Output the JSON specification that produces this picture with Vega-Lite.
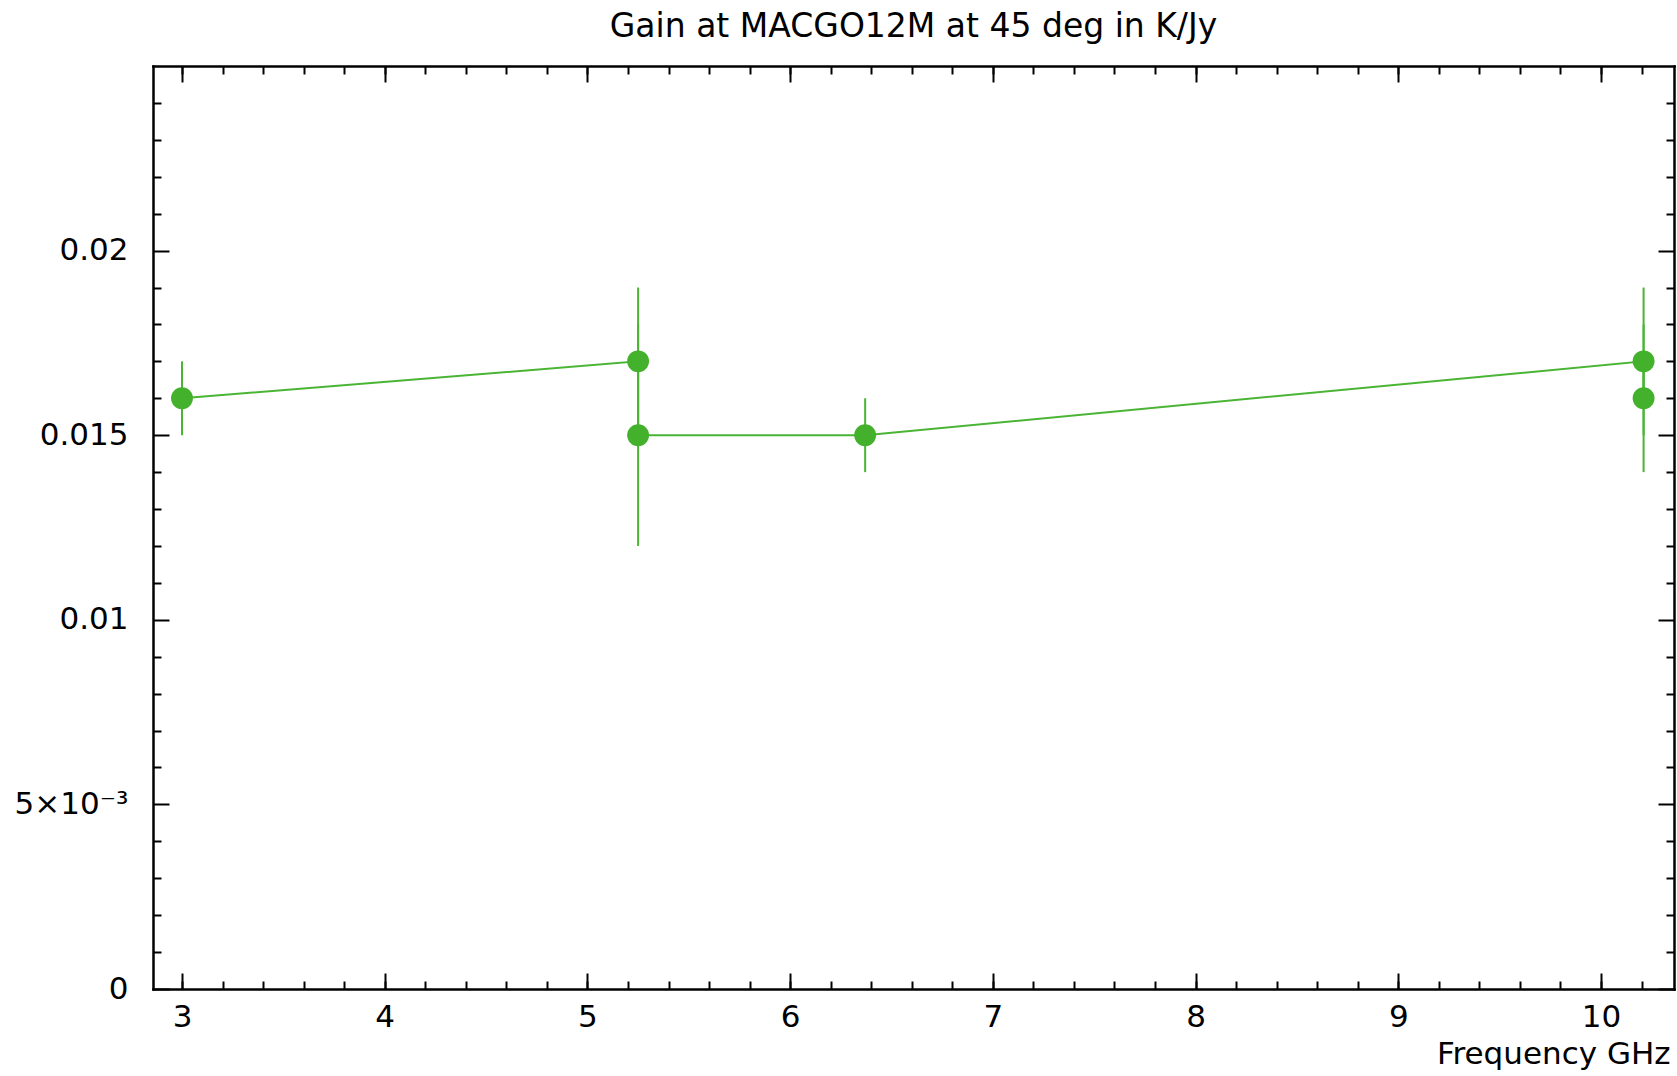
{
  "$schema": "https://vega.github.io/schema/vega-lite/v6.json",
  "autosize": {"type": "none"},
  "padding": {"left": 153, "top": 66, "right": 3, "bottom": 87},
  "width": 1521,
  "height": 923,
  "background": "white",
  "title": {"text": "Gain at MACGO12M at 45 deg in K/Jy", "baseline": "alphabetic", "offset": -5, "fontSize": 33, "font": "DejaVu Sans", "fontWeight": "normal", "color": "black", "anchor": "middle"},
  "data": {"values": [
    {"freq": 3.0, "gain": 0.016, "lo": 0.015, "hi": 0.017, "order": 1},
    {"freq": 5.25, "gain": 0.017, "lo": 0.015, "hi": 0.019, "order": 2},
    {"freq": 5.25, "gain": 0.015, "lo": 0.012, "hi": 0.018, "order": 3},
    {"freq": 6.37, "gain": 0.015, "lo": 0.014, "hi": 0.016, "order": 4},
    {"freq": 10.21, "gain": 0.017, "lo": 0.015, "hi": 0.019, "order": 5},
    {"freq": 10.21, "gain": 0.016, "lo": 0.014, "hi": 0.018, "order": 6}
  ]},
  "resolve": {"axis": {"x": "independent", "y": "independent"}},
  "layer": [
    {
      "mark": {"type": "line", "color": "#4ab535", "strokeWidth": 2},
      "encoding": {
        "x": {"field": "freq", "type": "quantitative", "scale": {"domain": [2.857, 10.36], "nice": false, "zero": false},
          "axis": {"orient": "bottom", "values": [3, 4, 5, 6, 7, 8, 9, 10], "tickSize": -16, "labelPadding": 29, "labelFontSize": 31, "labelFont": "DejaVu Sans", "labelColor": "black", "grid": false, "labelFlush": false, "labelOverlap": false,
            "title": "Frequency GHz", "titleFont": "DejaVu Sans", "titleFontSize": 31, "titleFontWeight": "normal", "titleColor": "black", "titleAlign": "right", "titleAnchor": "end", "titleX": 1517, "titleY": 74, "titleBaseline": "alphabetic"}},
        "y": {"field": "gain", "type": "quantitative", "scale": {"domain": [0, 0.025], "nice": false},
          "axis": {"orient": "left", "values": [0, 0.005, 0.01, 0.015, 0.02], "format": "~g", "labelExpr": "datum.value == 0.005 ? '5×10⁻³' : datum.label", "tickSize": -16, "labelPadding": 41, "labelFontSize": 31, "labelFont": "DejaVu Sans", "labelColor": "black", "grid": false, "labelFlush": false, "labelOverlap": false, "title": null}},
        "order": {"field": "order", "type": "quantitative"}
      }
    },
    {
      "mark": {"type": "rule", "color": "#4ab535", "strokeWidth": 2},
      "encoding": {
        "x": {"field": "freq", "type": "quantitative", "scale": {"domain": [2.857, 10.36], "nice": false, "zero": false},
          "axis": {"orient": "bottom", "values": [3, 3.2, 3.4, 3.6, 3.8, 4, 4.2, 4.4, 4.6, 4.8, 5, 5.2, 5.4, 5.6, 5.8, 6, 6.2, 6.4, 6.6, 6.8, 7, 7.2, 7.4, 7.6, 7.8, 8, 8.2, 8.4, 8.6, 8.8, 9, 9.2, 9.4, 9.6, 9.8, 10, 10.2], "tickSize": -8, "labels": false, "domain": false, "grid": false, "title": null}},
        "y": {"field": "lo", "type": "quantitative", "scale": {"domain": [0, 0.025], "nice": false},
          "axis": {"orient": "left", "values": [0.001, 0.002, 0.003, 0.004, 0.006, 0.007, 0.008, 0.009, 0.011, 0.012, 0.013, 0.014, 0.016, 0.017, 0.018, 0.019, 0.021, 0.022, 0.023, 0.024], "tickSize": -8, "labels": false, "domain": false, "grid": false, "title": null}},
        "y2": {"field": "hi"}
      }
    },
    {
      "mark": {"type": "point", "shape": "circle", "filled": true, "color": "#44b12c", "opacity": 1, "size": 480},
      "encoding": {
        "x": {"field": "freq", "type": "quantitative", "scale": {"domain": [2.857, 10.36], "nice": false, "zero": false},
          "axis": {"orient": "top", "values": [3, 4, 5, 6, 7, 8, 9, 10], "tickSize": -16, "labels": false, "grid": false, "title": null}},
        "y": {"field": "gain", "type": "quantitative", "scale": {"domain": [0, 0.025], "nice": false},
          "axis": {"orient": "right", "values": [0, 0.005, 0.01, 0.015, 0.02], "tickSize": -16, "labels": false, "grid": false, "title": null}}
      }
    },
    {
      "mark": {"type": "point", "shape": "circle", "filled": true, "opacity": 0, "size": 10},
      "encoding": {
        "x": {"field": "freq", "type": "quantitative", "scale": {"domain": [2.857, 10.36], "nice": false, "zero": false},
          "axis": {"orient": "top", "values": [3, 3.2, 3.4, 3.6, 3.8, 4, 4.2, 4.4, 4.6, 4.8, 5, 5.2, 5.4, 5.6, 5.8, 6, 6.2, 6.4, 6.6, 6.8, 7, 7.2, 7.4, 7.6, 7.8, 8, 8.2, 8.4, 8.6, 8.8, 9, 9.2, 9.4, 9.6, 9.8, 10, 10.2], "tickSize": -8, "labels": false, "domain": false, "grid": false, "title": null}},
        "y": {"field": "gain", "type": "quantitative", "scale": {"domain": [0, 0.025], "nice": false},
          "axis": {"orient": "right", "values": [0.001, 0.002, 0.003, 0.004, 0.006, 0.007, 0.008, 0.009, 0.011, 0.012, 0.013, 0.014, 0.016, 0.017, 0.018, 0.019, 0.021, 0.022, 0.023, 0.024], "tickSize": -8, "labels": false, "domain": false, "grid": false, "title": null}}
      }
    }
  ],
  "config": {
    "view": {"stroke": null},
    "axis": {"domainColor": "black", "domainWidth": 2.5, "tickColor": "black", "tickWidth": 2, "domainCap": "square"}
  }
}
